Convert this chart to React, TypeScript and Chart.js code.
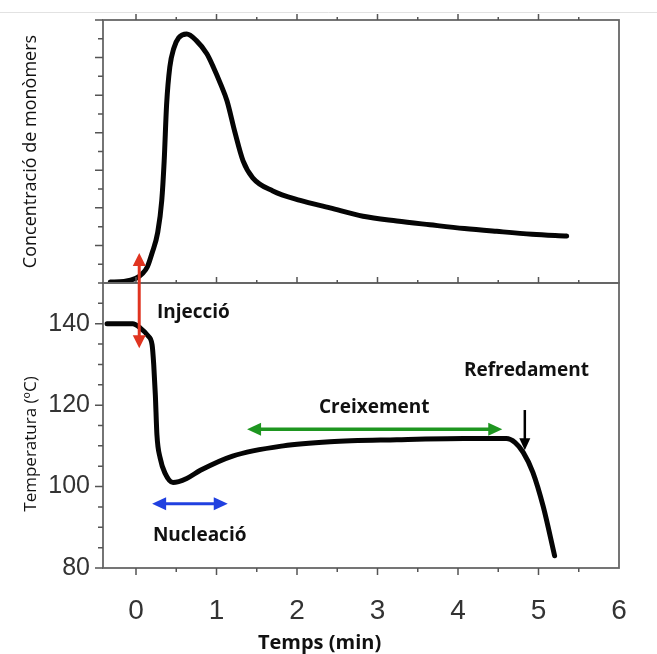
import React, { useEffect, useRef } from "react";
import { Chart, registerables } from "chart.js";

Chart.register(...registerables);

// ---- Data ----
const concTime = [-0.32, -0.15, 0.0, 0.08, 0.14, 0.2, 0.27, 0.32, 0.35, 0.38, 0.42, 0.47, 0.53, 0.63, 0.75, 0.88, 0.96, 1.05, 1.13, 1.23, 1.33, 1.45, 1.7, 2.04, 2.41, 2.82, 3.24, 3.65, 4.08, 4.48, 4.92, 5.35];
const concValues = [0.05, 0.08, 0.25, 0.5, 0.85, 1.6, 2.7, 4.4, 6.5, 9.5, 11.5, 12.5, 13.05, 13.25, 12.9, 12.2, 11.5, 10.6, 9.7, 8.0, 6.5, 5.6, 4.9, 4.4, 4.0, 3.55, 3.3, 3.1, 2.9, 2.75, 2.6, 2.5];

const tempTime = [-0.36, -0.04, 0.05, 0.15, 0.2, 0.22, 0.24, 0.26, 0.3, 0.36, 0.46, 0.63, 0.8, 1.2, 1.83, 2.41, 3.24, 4.07, 4.6, 4.71, 4.81, 4.93, 5.06, 5.2];
const tempValues = [140, 140, 139, 137, 134.8, 130, 122.6, 112.7, 107, 103.3, 101, 102, 104, 107.5, 110, 111, 111.5, 111.8, 111.8, 110.8, 108.4, 103.5, 95, 83];

const xTickValues = [0, 1, 2, 3, 4, 5, 6];
const xMinorTickValues = [0.5, 1.5, 2.5, 3.5, 4.5, 5.5];
const tempTickValues = [80, 100, 120, 140];
const tempMinorTickValues = [85, 90, 95, 105, 110, 115, 125, 130, 135, 145, 150];
const concTickValues = [2, 4, 6, 8, 10, 12, 14];
const concMinorTickValues = [1, 3, 5, 7, 9, 11, 13];

const X_RANGE = [-0.41, 6.0];
const CONC_RANGE = [0, 14];
const TEMP_RANGE = [80, 150];

// annotations (data coordinates)
const injectionArrow = { x: 0.04, concTip: 1.6, tempTip: 134 };
const nucleationArrow = { x0: 0.2, x1: 1.14, y: 95.8 };
const growthArrow = { x0: 1.38, x1: 4.55, y: 114.1 };
const coolingArrow = { x: 4.83, y0: 118.8, y1: 108.9 };
const annotationLabels = [
  { text: "Injecció", x: 0.26, y: 142.7, align: "left" },
  { text: "Nucleació", x: 0.21, y: 87.9, align: "left" },
  { text: "Creixement", x: 2.96, y: 119.5, align: "center" },
  { text: "Refredament", x: 4.85, y: 128.4, align: "center" },
];
const xTitle = "Temps (min)";
const tempTitle = "Temperatura (ºC)";
const concTitle = "Concentració de monòmers";

function arrowHead(ctx: CanvasRenderingContext2D, tx: number, ty: number, fx: number, fy: number, len: number, half: number, color: string) {
  const a = Math.atan2(ty - fy, tx - fx);
  ctx.save();
  ctx.fillStyle = color;
  ctx.beginPath();
  ctx.moveTo(tx, ty);
  ctx.lineTo(tx - len * Math.cos(a) + half * Math.sin(a), ty - len * Math.sin(a) - half * Math.cos(a));
  ctx.lineTo(tx - len * Math.cos(a) - half * Math.sin(a), ty - len * Math.sin(a) + half * Math.cos(a));
  ctx.closePath();
  ctx.fill();
  ctx.restore();
}

function arrow(ctx: CanvasRenderingContext2D, x0: number, y0: number, x1: number, y1: number, color: string, width: number, len: number, half: number, both: boolean) {
  const a = Math.atan2(y1 - y0, x1 - x0);
  const sx = both ? x0 + (len - 2) * Math.cos(a) : x0;
  const sy = both ? y0 + (len - 2) * Math.sin(a) : y0;
  const ex = x1 - (len - 2) * Math.cos(a);
  const ey = y1 - (len - 2) * Math.sin(a);
  ctx.save();
  ctx.strokeStyle = color;
  ctx.lineWidth = width;
  ctx.beginPath();
  ctx.moveTo(sx, sy);
  ctx.lineTo(ex, ey);
  ctx.stroke();
  ctx.restore();
  arrowHead(ctx, x1, y1, x0, y0, len, half, color);
  if (both) arrowHead(ctx, x0, y0, x1, y1, len, half, color);
}

const decorPlugin = {
  id: "decor",
  afterDraw(chart: any) {
    const ctx: CanvasRenderingContext2D = chart.ctx;
    const xs = chart.scales.x;
    const yc = chart.scales.yConc;
    const yt = chart.scales.yTemp;
    const L = chart.chartArea.left;
    const R = chart.chartArea.right;
    const top = yc.top;
    const mid = yc.bottom;
    const bot = yt.bottom;

    ctx.save();
    // faint top line
    ctx.strokeStyle = "#e2e2e2";
    ctx.lineWidth = 1;
    ctx.beginPath();
    ctx.moveTo(0, 12.5);
    ctx.lineTo(chart.width, 12.5);
    ctx.stroke();

    // frames
    ctx.strokeStyle = "#666";
    ctx.lineWidth = 1.8;
    ctx.strokeRect(L, top, R - L, mid - top);
    ctx.strokeRect(L, mid, R - L, bot - mid);

    // ticks
    ctx.strokeStyle = "#555";
    ctx.lineWidth = 1.5;
    ctx.beginPath();
    const xt = (v: number, len: number) => {
      const p = xs.getPixelForValue(v);
      ctx.moveTo(p, bot); ctx.lineTo(p, bot + len);
      ctx.moveTo(p, mid); ctx.lineTo(p, mid - len + 1);
      ctx.moveTo(p, top); ctx.lineTo(p, top - len + 1);
    };
    xTickValues.forEach((v) => { if (v < X_RANGE[1]) xt(v, 7); });
    xMinorTickValues.forEach((v) => xt(v, 4));
    const yl = (s: any, v: number, len: number) => {
      const p = s.getPixelForValue(v);
      ctx.moveTo(L, p); ctx.lineTo(L - len, p);
    };
    tempTickValues.forEach((v) => yl(yt, v, 8));
    tempMinorTickValues.forEach((v) => yl(yt, v, 5));
    concTickValues.forEach((v) => yl(yc, v, 8));
    concMinorTickValues.forEach((v) => yl(yc, v, 5));
    ctx.stroke();

    // arrows
    const ix = xs.getPixelForValue(injectionArrow.x);
    arrow(ctx, ix, yc.getPixelForValue(injectionArrow.concTip), ix, yt.getPixelForValue(injectionArrow.tempTip), "#e03420", 3, 13, 6.5, true);
    const ny = yt.getPixelForValue(nucleationArrow.y);
    arrow(ctx, xs.getPixelForValue(nucleationArrow.x0), ny, xs.getPixelForValue(nucleationArrow.x1), ny, "#2040e0", 3, 14, 6.5, true);
    const gy = yt.getPixelForValue(growthArrow.y);
    arrow(ctx, xs.getPixelForValue(growthArrow.x0), gy, xs.getPixelForValue(growthArrow.x1), gy, "#1e9620", 3.5, 14, 6.5, true);
    const cx = xs.getPixelForValue(coolingArrow.x);
    arrow(ctx, cx, yt.getPixelForValue(coolingArrow.y0), cx, yt.getPixelForValue(coolingArrow.y1), "#000", 2.5, 12, 5.5, false);

    // labels
    ctx.fillStyle = "#111";
    ctx.font = "bold 19px 'Open Sans'";
    ctx.textBaseline = "middle";
    annotationLabels.forEach((l) => {
      ctx.textAlign = l.align as CanvasTextAlign;
      ctx.fillText(l.text, xs.getPixelForValue(l.x), yt.getPixelForValue(l.y));
    });

    // axis titles
    ctx.textAlign = "center";
    ctx.font = "bold 20px 'Open Sans'";
    ctx.fillText(xTitle, xs.getPixelForValue(2.28), bot + 75);
    ctx.font = "18px 'Open Sans'";
    ctx.save();
    ctx.translate(31, (top + mid) / 2);
    ctx.rotate(-Math.PI / 2);
    ctx.fillText(concTitle, 0, 0);
    ctx.restore();
    ctx.font = "17px 'Open Sans'";
    ctx.save();
    ctx.translate(31, mid + (bot - mid) * 0.565);
    ctx.rotate(-Math.PI / 2);
    ctx.fillText(tempTitle, 0, 0);
    ctx.restore();
    ctx.restore();
  },
};

const noPad = (width: number) => (s: any) => {
  s.width = width;
  s.paddingTop = 0;
  s.paddingBottom = 0;
};

export default function App() {
  const ref = useRef<HTMLCanvasElement | null>(null);
  useEffect(() => {
    if (!ref.current) return;
    const lineStyle = {
      borderColor: "#050505",
      borderWidth: 5,
      pointRadius: 0,
      fill: false,
      tension: 0.4,
      cubicInterpolationMode: "monotone" as const,
      borderCapStyle: "round" as const,
      borderJoinStyle: "round" as const,
    };
    const chart = new Chart(ref.current, {
      type: "line",
      data: {
        datasets: [
          { label: "Concentració", data: concTime.map((x, i) => ({ x, y: concValues[i] })), yAxisID: "yConc", ...lineStyle },
          { label: "Temperatura", data: tempTime.map((x, i) => ({ x, y: tempValues[i] })), yAxisID: "yTemp", ...lineStyle },
        ],
      },
      options: {
        responsive: false,
        animation: false,
        devicePixelRatio: 1,
        layout: { padding: { top: 20, right: 38, left: 0, bottom: 0 } },
        plugins: { legend: { display: false }, tooltip: { enabled: false } },
        scales: {
          x: {
            type: "linear",
            position: "bottom",
            min: X_RANGE[0],
            max: X_RANGE[1],
            grid: { display: false, drawTicks: false },
            border: { display: false },
            ticks: {
              stepSize: 1,
              includeBounds: false,
              padding: 26,
              autoSkip: false,
              maxRotation: 0,
              color: "#333",
              font: { family: "'Liberation Sans', Arial, sans-serif", size: 28 },
            },
            afterFit: (s: any) => { s.height = 86; },
          },
          yTemp: {
            type: "linear",
            position: "left",
            stack: "panels",
            stackWeight: 285,
            min: TEMP_RANGE[0],
            max: TEMP_RANGE[1],
            grid: { display: false, drawTicks: false },
            border: { display: false },
            ticks: {
              stepSize: 20,
              includeBounds: false,
              padding: 13,
              color: "#333",
              font: { family: "'Liberation Sans', Arial, sans-serif", size: 25 },
            },
            afterFit: noPad(103),
          },
          yConc: {
            type: "linear",
            position: "left",
            stack: "panels",
            stackWeight: 263,
            min: CONC_RANGE[0],
            max: CONC_RANGE[1],
            grid: { display: false, drawTicks: false },
            border: { display: false },
            ticks: { display: false },
            afterFit: noPad(103),
          },
        },
      } as any,
      plugins: [decorPlugin],
    });
    return () => chart.destroy();
  }, []);
  return (
    <div style={{ position: "fixed", left: 0, top: 0, width: 657, height: 654, background: "#fff" }}>
      <canvas ref={ref} width={657} height={654} />
    </div>
  );
}
